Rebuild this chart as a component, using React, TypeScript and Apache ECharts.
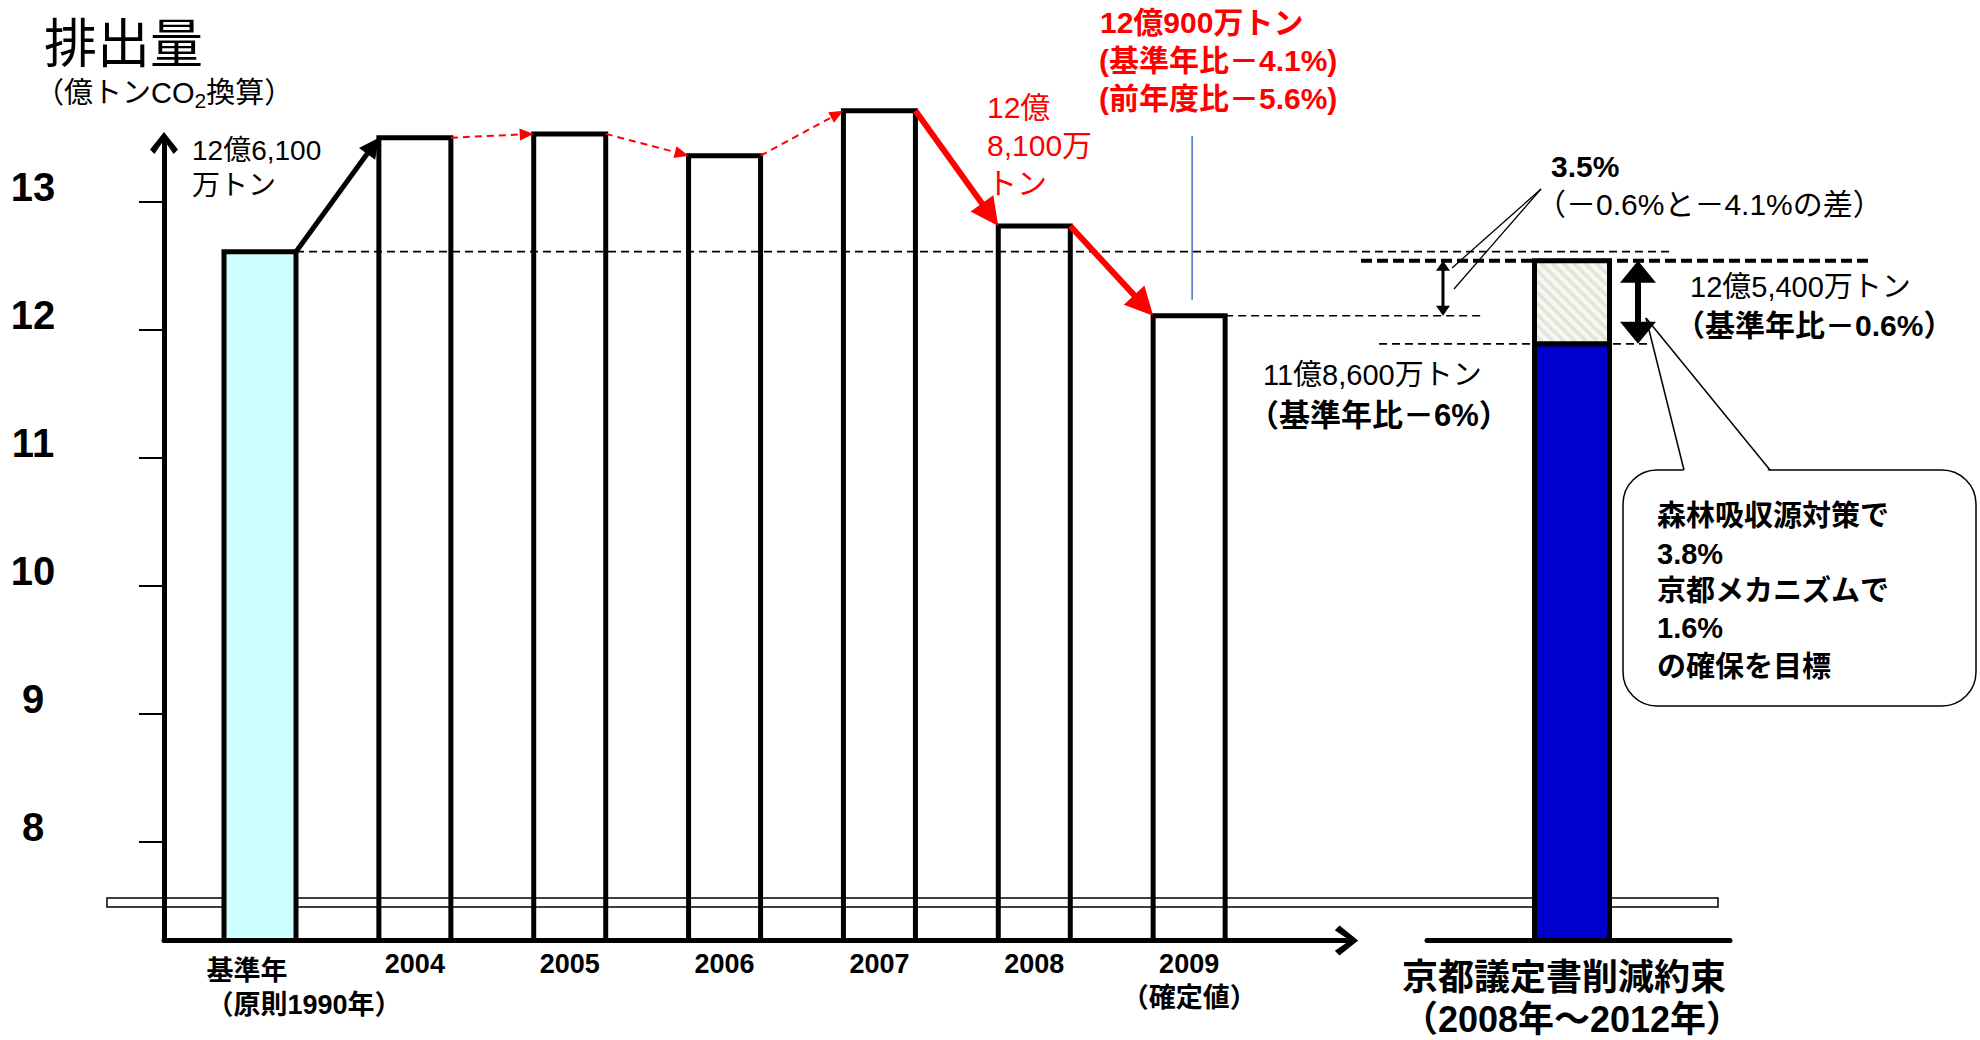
import React, { useEffect, useRef } from 'react';
import * as echarts from 'echarts';

// ---------------- data ----------------
const categories = ['基準年\n（原則1990年）', '2004', '2005', '2006', '2007', '2008', '2009\n（確定値）'];
const emissions = [12.61, 13.5, 13.53, 13.36, 13.71, 12.81, 12.11];
const yTicks = [8, 9, 10, 11, 12, 13];
const kyotoCategory = ['京都議定書削減約束\n（2008年～2012年）'];
const kyotoTarget = [11.89];      // 基準年比−6%
const kyotoCommitment = [12.54];  // 基準年比−0.6%

// ---------------- layout / style ----------------
const Y_MIN = 7.23;
const Y_MAX = 13.49;
const X_MIN = -0.62;
const X_MAX = 7.042;
const BAR_W = 72;
const KYOTO_W = 75;
const FONT = "'Liberation Sans', 'Noto Sans CJK JP', sans-serif";
const CHEVRON = 'path://M16 0 L32 20 L27 25 L16 9 L5 25 L0 20 Z';

const ARROW_STYLES = [
  { color: '#000000', width: 5, dash: null as number[] | null, len: 20, half: 10 },
  { color: '#FF0000', width: 2, dash: [7, 5], len: 14, half: 6 },
  { color: '#FF0000', width: 2, dash: [7, 5], len: 14, half: 6 },
  { color: '#FF0000', width: 2, dash: [7, 5], len: 14, half: 6 },
  { color: '#FF0000', width: 6, dash: null, len: 28, half: 14 },
  { color: '#FF0000', width: 6, dash: null, len: 28, half: 14 },
];

function arrowShapes(p0: number[], p1: number[], st: typeof ARROW_STYLES[number]) {
  const dx = p1[0] - p0[0];
  const dy = p1[1] - p0[1];
  const L = Math.sqrt(dx * dx + dy * dy);
  const ux = dx / L, uy = dy / L;
  const nx = -uy, ny = ux;
  const bx = p1[0] - ux * st.len, by = p1[1] - uy * st.len;
  return [
    {
      type: 'line',
      shape: { x1: p0[0], y1: p0[1], x2: bx + ux * 2, y2: by + uy * 2 },
      style: { stroke: st.color, lineWidth: st.width, lineDash: st.dash || undefined, lineCap: 'butt' },
    },
    {
      type: 'polygon',
      shape: { points: [[p1[0], p1[1]], [bx + nx * st.half, by + ny * st.half], [bx - nx * st.half, by - ny * st.half]] },
      style: { fill: st.color },
    },
  ];
}

function doubleArrow(x: number, y1: number, y2: number, w: number, hw: number, hl: number) {
  return [
    { type: 'line', shape: { x1: x, y1: y1 + hl - 1, x2: x, y2: y2 - hl + 1 }, style: { stroke: '#000', lineWidth: w } },
    { type: 'polygon', shape: { points: [[x, y1], [x - hw, y1 + hl], [x + hw, y1 + hl]] }, style: { fill: '#000' } },
    { type: 'polygon', shape: { points: [[x, y2], [x - hw, y2 - hl], [x + hw, y2 - hl]] }, style: { fill: '#000' } },
  ];
}

function hline(x1: number, x2: number, y: number, style: any) {
  return { type: 'line', shape: { x1, y1: y, x2, y2: y }, style };
}

function txt(x: number, y: number, text: string, size: number, opts: { bold?: boolean; color?: string; rich?: any } = {}) {
  return {
    type: 'text',
    x,
    y,
    z: 10,
    style: {
      text,
      fontSize: size,
      fontFamily: FONT,
      fontWeight: opts.bold ? 'bold' : 'normal',
      fill: opts.color || '#000',
      align: 'left',
      verticalAlign: 'middle',
      rich: opts.rich,
    },
  };
}

const labelBase = {
  color: '#000',
  fontFamily: FONT,
  fontSize: 27,
  fontWeight: 'bold',
  lineHeight: 34,
};

export default function App() {
  const ref = useRef<HTMLDivElement>(null);

  useEffect(() => {
    const chart = echarts.init(ref.current as HTMLDivElement, null, { renderer: 'svg' });

    const red = '#FF0000';
    const graphic: any[] = [
      // axis break band
      { type: 'rect', z: 0, shape: { x: 107, y: 898, width: 1611, height: 9 }, style: { fill: '#fff', stroke: '#000', lineWidth: 1.5 } },
      // callout for 3.5%
      { type: 'line', z: 5, shape: { x1: 1541, y1: 189, x2: 1452, y2: 268 }, style: { stroke: '#000', lineWidth: 1.3 } },
      { type: 'line', z: 5, shape: { x1: 1541, y1: 189, x2: 1454, y2: 289 }, style: { stroke: '#000', lineWidth: 1.3 } },
      // speech bubble
      { type: 'rect', z: 1, shape: { x: 1623, y: 470, width: 353, height: 236, r: 34 }, style: { fill: '#fff', stroke: '#000', lineWidth: 1.5 } },
      { type: 'polygon', z: 1, shape: { points: [[1684, 472.5], [1770, 472.5], [1646, 318]] }, style: { fill: '#fff' } },
      { type: 'line', z: 1, shape: { x1: 1684, y1: 470, x2: 1646, y2: 318 }, style: { stroke: '#000', lineWidth: 1.5 } },
      { type: 'line', z: 1, shape: { x1: 1770, y1: 470, x2: 1646, y2: 318 }, style: { stroke: '#000', lineWidth: 1.5 } },
      // texts
      txt(44, 44, '排出量', 53),
      txt(35, 93, '（億トンCO{sub|2}換算）', 29, {
        rich: { sub: { fontSize: 21, fontFamily: FONT, fill: '#000', padding: [14, 0, 0, 0] } },
      }),
      txt(192, 150, '12億6,100', 28),
      txt(192, 185, '万トン', 28),
      txt(987, 107, '12億', 30, { color: red }),
      txt(987, 145, '8,100万', 30, { color: red }),
      txt(987, 183, 'トン', 30, { color: red }),
      txt(1100, 22, '12億900万トン', 30, { bold: true, color: red }),
      txt(1099, 60, '(基準年比－4.1%)', 30, { bold: true, color: red }),
      txt(1099, 98, '(前年度比－5.6%)', 30, { bold: true, color: red }),
      txt(1551, 166, '3.5%', 30, { bold: true }),
      txt(1536, 204, '（－0.6%と－4.1%の差）', 30),
      txt(1690, 287, '12億5,400万トン', 29),
      txt(1675, 325, '（基準年比－0.6%）', 30, { bold: true }),
      txt(1263, 375, '11億8,600万トン', 29),
      txt(1248, 415, '（基準年比－6%）', 31, { bold: true }),
      txt(1657, 516, '森林吸収源対策で', 29, { bold: true }),
      txt(1657, 554, '3.8%', 29, { bold: true }),
      txt(1657, 591, '京都メカニズムで', 29, { bold: true }),
      txt(1657, 628, '1.6%', 29, { bold: true }),
      txt(1657, 667, 'の確保を目標', 29, { bold: true }),
    ];

    const option: any = {
      animation: false,
      backgroundColor: '#ffffff',
      textStyle: { fontFamily: FONT },
      grid: [
        { left: 164, top: 139, right: 629.5, bottom: 99.5, containLabel: false, outerBoundsMode: 'none' },
        { left: 1427, top: 139, right: 250, bottom: 99.5, containLabel: false, outerBoundsMode: 'none' },
      ],
      xAxis: [
        {
          type: 'value',
          gridIndex: 0,
          min: X_MIN,
          max: X_MAX,
          z: 6,
          splitLine: { show: false },
          axisTick: { show: false },
          axisLine: {
            show: true,
            onZero: false,
            symbol: ['none', CHEVRON],
            symbolSize: [30, 23.4],
            symbolOffset: [0, -4],
            lineStyle: { color: '#000', width: 5 },
          },
          axisLabel: {
            ...labelBase,
            customValues: categories.map((_, i) => i).slice(1),
            showMinLabel: true,
            showMaxLabel: true,
            hideOverlap: false,
            margin: 6,
            formatter: (v: number) => categories[Math.round(v)],
          },
        },
        {
          type: 'value',
          gridIndex: 1,
          min: -1.45,
          max: 1.58,
          z: 6,
          splitLine: { show: false },
          axisTick: { show: false },
          axisLine: { show: true, onZero: false, lineStyle: { color: '#000', width: 5 } },
          axisLabel: {
            customValues: [0],
            showMinLabel: true,
            showMaxLabel: true,
            margin: 16,
            color: '#000',
            fontFamily: FONT,
            fontSize: 36,
            fontWeight: 'bold',
            lineHeight: 42,
            formatter: () => kyotoCategory[0].split('\n').map((l) => `{k|${l}}`).join('\n'),
            rich: {
              k: { align: 'left', fontSize: 36, fontWeight: 'bold', fontFamily: FONT, color: '#000', lineHeight: 42 },
            },
          },
        },
        {
          // carries only the base-year label (its two lines are left-aligned)
          type: 'value',
          gridIndex: 0,
          min: X_MIN,
          max: X_MAX,
          position: 'bottom',
          splitLine: { show: false },
          axisTick: { show: false },
          axisLine: { show: false, onZero: false },
          axisLabel: {
            ...labelBase,
            customValues: [0],
            showMinLabel: true,
            showMaxLabel: true,
            margin: 13,
            formatter: (v: number) => categories[Math.round(v)].split('\n').map((l) => `{l|${l}}`).join('\n'),
            rich: {
              l: { ...labelBase, align: 'left', padding: [0, 0, 0, 88] },
            },
          },
        },
      ],
      yAxis: [
        {
          type: 'value',
          gridIndex: 0,
          min: Y_MIN,
          max: Y_MAX,
          z: 6,
          splitLine: { show: false },
          axisLine: {
            show: true,
            onZero: false,
            symbol: ['none', CHEVRON],
            symbolSize: [28, 21.9],
            symbolOffset: [0, -4],
            lineStyle: { color: '#000', width: 5 },
          },
          axisTick: { show: true, customValues: yTicks, length: 25, inside: false, lineStyle: { color: '#000', width: 2 } },
          axisLabel: {
            customValues: yTicks,
            showMinLabel: true,
            showMaxLabel: true,
            margin: 131,
            align: 'center',
            verticalAlign: 'bottom',
            lineHeight: 30,
            color: '#000',
            fontFamily: FONT,
            fontSize: 40,
            fontWeight: 'bold',
          },
        },
        {
          type: 'value',
          gridIndex: 1,
          min: Y_MIN,
          max: Y_MAX,
          show: false,
          splitLine: { show: false },
        },
      ],
      graphic,
      series: [
        {
          type: 'custom',
          name: 'bars',
          xAxisIndex: 0,
          yAxisIndex: 0,
          z: 3,
          clip: false,
          data: emissions.map((v, i) => [i, v]),
          renderItem: (_p: any, api: any) => {
            const i = api.value(0);
            const v = api.value(1);
            const top = api.coord([i, v]);
            const bot = api.coord([i, Y_MIN]);
            return {
              type: 'rect',
              shape: { x: top[0] - BAR_W / 2, y: top[1], width: BAR_W, height: bot[1] - top[1] },
              style: { fill: i === 0 ? '#CCFFFF' : 'none', stroke: '#000', lineWidth: 5 },
            };
          },
        },
        {
          type: 'custom',
          name: 'refs',
          xAxisIndex: 0,
          yAxisIndex: 0,
          z: 2,
          clip: false,
          data: [[0, 0]],
          renderItem: (_p: any, api: any) => {
            const yOf = (v: number) => api.coord([0, v])[1];
            const xOf = (i: number) => api.coord([i, Y_MIN])[0];
            const half = BAR_W / 2;
            const yBase = yOf(emissions[0]);
            const y09 = yOf(emissions[6]);
            const yT = yOf(kyotoTarget[0]);
            const yC = yOf(kyotoCommitment[0]);
            const thin = { stroke: '#000', lineWidth: 1.6, lineDash: [8, 5] };
            const children: any[] = [
              hline(xOf(0) + half, 1672, yBase, thin),
              hline(xOf(6) + half, 1484, y09, thin),
              hline(1379, 1650, yT, thin),
              hline(1361, 1869, yC, { stroke: '#000', lineWidth: 4, lineDash: [11, 5] }),
              { type: 'line', shape: { x1: xOf(6) + 3, y1: 136, x2: xOf(6) + 3, y2: y09 - 16 }, style: { stroke: '#4472C4', lineWidth: 1.5 } },
              ...doubleArrow(1443, yC, y09, 3, 7, 10),
              ...doubleArrow(1638, yC, yT, 6, 18, 22),
            ];
            return { type: 'group', children };
          },
        },
        {
          type: 'custom',
          name: 'kyoto',
          xAxisIndex: 1,
          yAxisIndex: 1,
          z: 3,
          clip: false,
          data: [[0, kyotoTarget[0], kyotoCommitment[0]]],
          renderItem: (_p: any, api: any) => {
            const x = api.value(0);
            const pT = api.coord([x, api.value(1)]);
            const pC = api.coord([x, api.value(2)]);
            const pB = api.coord([x, Y_MIN]);
            const left = pT[0] - KYOTO_W / 2;
            const ix0 = left + 2.5, ix1 = left + KYOTO_W - 2.5;
            const iy0 = pC[1] + 2.5, iy1 = pT[1] - 2.5;
            const stripes: any[] = [];
            for (let c = iy0 - ix1; c < iy1 - ix0; c += 11) {
              const sx = Math.max(ix0, iy0 - c);
              const ex = Math.min(ix1, iy1 - c);
              if (ex > sx) {
                stripes.push({ type: 'line', shape: { x1: sx, y1: sx + c, x2: ex, y2: ex + c }, style: { stroke: '#E0E5D6', lineWidth: 3.5 } });
              }
            }
            return {
              type: 'group',
              children: [
                { type: 'rect', shape: { x: left, y: pT[1], width: KYOTO_W, height: pB[1] - pT[1] }, style: { fill: '#0000CC', stroke: '#000', lineWidth: 5 } },
                { type: 'rect', shape: { x: left, y: pC[1], width: KYOTO_W, height: pT[1] - pC[1] }, style: { fill: '#F6F7F2' } },
                ...stripes,
                { type: 'rect', shape: { x: left, y: pC[1], width: KYOTO_W, height: pT[1] - pC[1] }, style: { fill: 'none', stroke: '#000', lineWidth: 5 } },
              ],
            };
          },
        },
        {
          type: 'custom',
          name: 'changes',
          xAxisIndex: 0,
          yAxisIndex: 0,
          z: 4,
          clip: false,
          data: emissions.slice(0, -1).map((v, i) => [i, v, i + 1, emissions[i + 1]]),
          renderItem: (params: any, api: any) => {
            const idx = params.dataIndex;
            const p0 = api.coord([api.value(0), api.value(1)]);
            const p1 = api.coord([api.value(2), api.value(3)]);
            const a = [p0[0] + BAR_W / 2, p0[1]];
            const b = [p1[0] - BAR_W / 2, p1[1]];
            return { type: 'group', children: arrowShapes(a, b, ARROW_STYLES[idx]) };
          },
        },
      ],
    };

    chart.setOption(option);
    return () => chart.dispose();
  }, []);

  return (
    <div
      ref={ref}
      style={{ position: 'fixed', left: 0, top: 0, width: 1980, height: 1040, background: '#ffffff' }}
    />
  );
}
